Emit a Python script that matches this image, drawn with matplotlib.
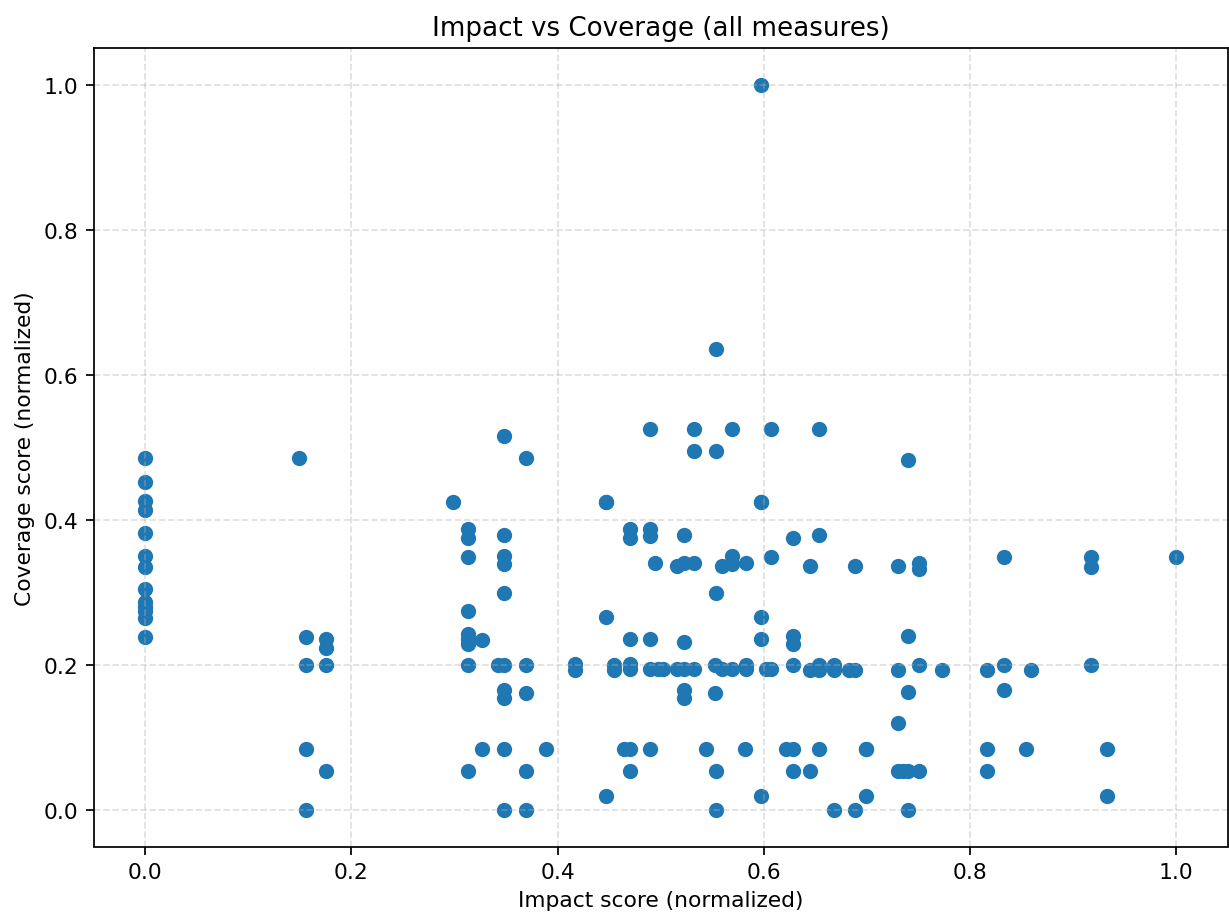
"""Nuage de points impact / couverture pour toutes les mesures"""
import numpy as np
import matplotlib
matplotlib.use("Agg")
import matplotlib.pyplot as plt

# Scores normalises (impact en x, couverture en y), une mesure par point
impact = [
    0.0, 0.0, 0.0, 0.0, 0.0, 0.0, 0.0, 0.0, 0.0, 0.0, 0.0, 0.0, 0.0,
    0.149,
    0.156, 0.156, 0.156, 0.156,
    0.175, 0.175, 0.175, 0.175,
    0.299,
    0.313, 0.313, 0.313, 0.313, 0.313, 0.313, 0.313, 0.313, 0.313,
    0.327, 0.327,
    0.342,
    0.348, 0.348, 0.348, 0.348, 0.348, 0.348, 0.348, 0.348, 0.348, 0.348,
    0.369, 0.369, 0.369, 0.369, 0.369,
    0.389,
    0.417, 0.417,
    0.447, 0.447, 0.447, 0.447,
    0.455, 0.455,
    0.464,
    0.470, 0.470, 0.470, 0.470, 0.470, 0.470, 0.470,
    0.490, 0.490, 0.490, 0.490, 0.490, 0.490,
    0.494, 0.497, 0.502,
    0.516, 0.516,
    0.523, 0.523, 0.523, 0.523, 0.523, 0.523,
    0.532, 0.532, 0.532, 0.532,
    0.544,
    0.553, 0.553,
    0.554, 0.554, 0.554, 0.554, 0.554,
    0.559, 0.559,
    0.569, 0.569, 0.569, 0.569,
    0.582,
    0.583, 0.583, 0.583,
    0.597, 0.597, 0.597, 0.597, 0.597, 0.597,
    0.602,
    0.607, 0.607, 0.607,
    0.621,
    0.628, 0.628, 0.628, 0.628, 0.628, 0.628,
    0.645, 0.645, 0.645,
    0.653, 0.653, 0.653, 0.653, 0.653,
    0.668, 0.668, 0.668,
    0.683,
    0.688, 0.688, 0.688,
    0.699, 0.699, 0.699,
    0.730, 0.730, 0.730, 0.730,
    0.735,
    0.740, 0.740, 0.740, 0.740, 0.740,
    0.750, 0.750, 0.750, 0.750,
    0.773,
    0.816, 0.816, 0.816,
    0.833, 0.833, 0.833,
    0.854, 0.859,
    0.917, 0.917, 0.917,
    0.933, 0.933,
    1.0,
]
coverage = [
    0.486, 0.452, 0.426, 0.414, 0.382, 0.350, 0.335, 0.305, 0.287, 0.280, 0.274, 0.265, 0.239,
    0.486,
    0.239, 0.200, 0.084, 0.0,
    0.236, 0.224, 0.200, 0.054,
    0.425,
    0.388, 0.375, 0.349, 0.274, 0.243, 0.236, 0.229, 0.200, 0.054,
    0.235, 0.084,
    0.200,
    0.516, 0.379, 0.351, 0.340, 0.300, 0.200, 0.166, 0.155, 0.084, 0.0,
    0.486, 0.200, 0.162, 0.054, 0.0,
    0.084,
    0.201, 0.193,
    0.425, 0.425, 0.266, 0.019,
    0.200, 0.193,
    0.084,
    0.388, 0.375, 0.236, 0.201, 0.194, 0.084, 0.054,
    0.526, 0.388, 0.378, 0.236, 0.194, 0.084,
    0.341, 0.194, 0.194,
    0.337, 0.194,
    0.379, 0.341, 0.232, 0.194, 0.166, 0.155,
    0.526, 0.495, 0.341, 0.194,
    0.084,
    0.200, 0.162,
    0.636, 0.495, 0.300, 0.054, 0.0,
    0.337, 0.194,
    0.526, 0.351, 0.339, 0.194,
    0.084,
    0.341, 0.200, 0.194,
    1.0, 0.425, 0.425, 0.266, 0.236, 0.019,
    0.194,
    0.526, 0.349, 0.194,
    0.084,
    0.375, 0.240, 0.229, 0.200, 0.084, 0.054,
    0.336, 0.193, 0.054,
    0.526, 0.379, 0.200, 0.193, 0.084,
    0.200, 0.193, 0.0,
    0.193,
    0.336, 0.193, 0.0,
    0.084, 0.084, 0.020,
    0.336, 0.193, 0.120, 0.054,
    0.054,
    0.483, 0.240, 0.163, 0.054, 0.0,
    0.341, 0.332, 0.200, 0.054,
    0.193,
    0.193, 0.084, 0.054,
    0.349, 0.200, 0.165,
    0.084, 0.193,
    0.349, 0.335, 0.200,
    0.084, 0.020,
    0.349,
]

x = np.array(impact)
y = np.array(coverage)

DPI = 157
fig = plt.figure(figsize=(1229 / DPI, 916 / DPI), dpi=DPI)
ax = fig.add_axes([93.5 / 1229, 1 - 847.5 / 916, (1228 - 93.5) / 1229, (847.5 - 49.3) / 916])

ax.scatter(x, y)
ax.set_title("Impact vs Coverage (all measures)")
ax.set_xlabel("Impact score (normalized)")
ax.set_ylabel("Coverage score (normalized)")
ax.grid(True, linestyle="--", alpha=0.4)

plt.savefig("out.png", dpi=DPI)
